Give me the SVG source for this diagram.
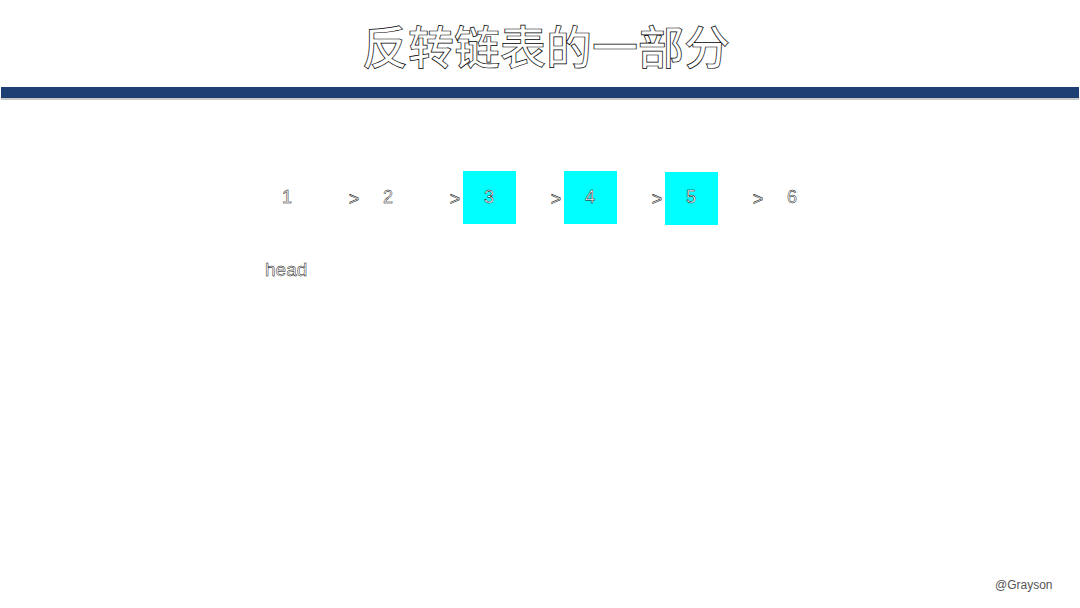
<svg xmlns="http://www.w3.org/2000/svg" width="1080" height="608" viewBox="0 0 1080 608">
<style>
.o{fill:#ffffff;stroke:#000000;stroke-width:0.45;font-family:"Liberation Sans",Arial,sans-serif}
.t{fill:#ffffff;stroke:#000000;stroke-width:0.7;font-family:"Noto Sans CJK SC","Liberation Sans",sans-serif;font-size:46px;font-weight:500}
.n{font-size:18px;text-anchor:middle}
.box{fill:#00ffff}
</style>
<rect width="1080" height="608" fill="#ffffff"/>
<text class="t" x="546" y="64" text-anchor="middle">反转链表的一部分</text>
<rect x="1" y="98" width="1078" height="2" fill="#c8c8c8"/>
<rect x="1" y="87" width="1078" height="11" fill="#1f3e74"/>
<g id="node1"><text class="o n" x="287" y="203">1</text></g>
<g id="node2"><text class="o n" x="388" y="203">2</text></g>
<g id="node3"><rect class="box" x="463" y="171" width="53" height="53"/><text class="o n" x="489" y="203">3</text></g>
<g id="node4"><rect class="box" x="564" y="171" width="53" height="53"/><text class="o n" x="590" y="203">4</text></g>
<g id="node5"><rect class="box" x="665" y="172" width="53" height="53"/><text class="o n" x="691" y="203">5</text></g>
<g id="node6"><text class="o n" x="792" y="203">6</text></g>
<g id="connectors">
<text class="o n" x="354" y="205">&gt;</text>
<text class="o n" x="455" y="205">&gt;</text>
<text class="o n" x="556" y="205">&gt;</text>
<text class="o n" x="657" y="205">&gt;</text>
<text class="o n" x="758" y="205">&gt;</text>
</g>
<g id="head"><text class="o" x="265" y="276" font-size="19">head</text></g>
<text x="995" y="589" font-family="Liberation Sans,Arial,sans-serif" font-size="12" fill="#555555">@Grayson</text>
</svg>
